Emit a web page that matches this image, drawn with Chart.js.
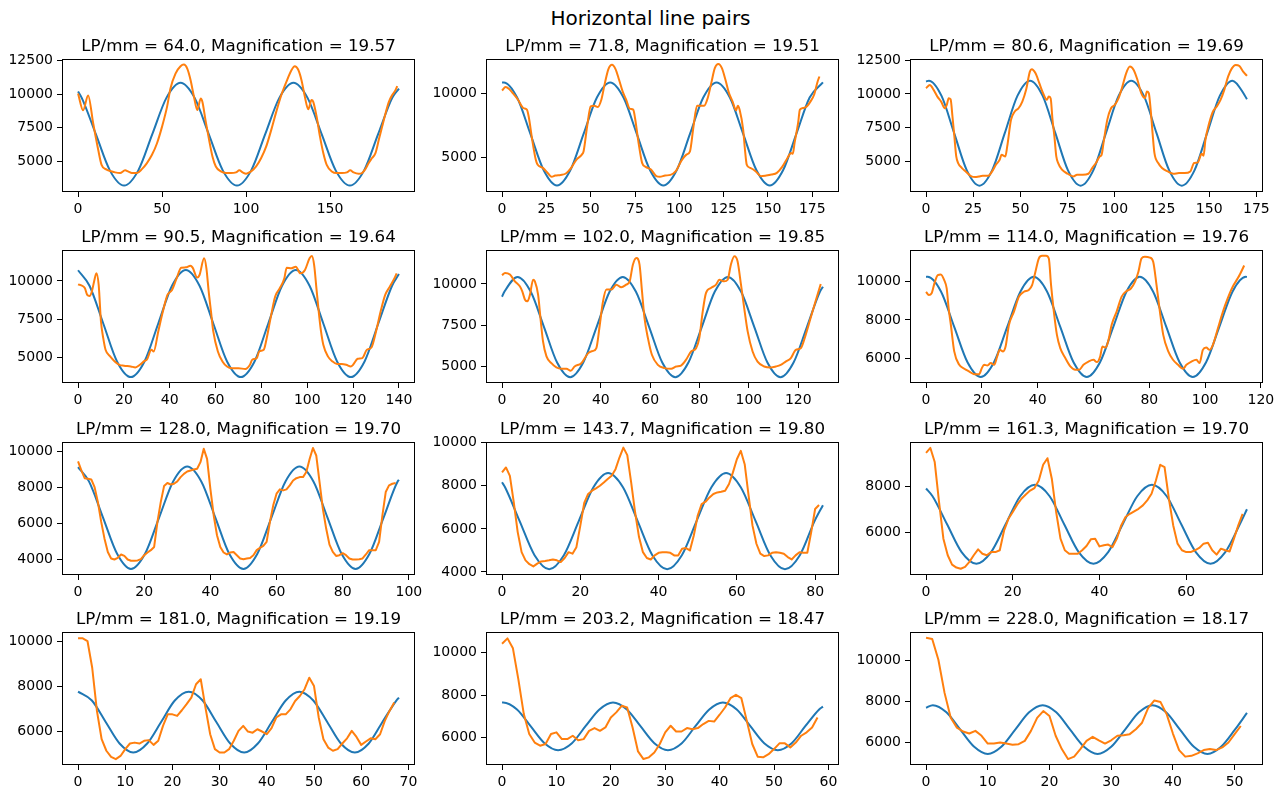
<!DOCTYPE html>
<html>
<head>
<meta charset="utf-8">
<title>Horizontal line pairs</title>
<script src="https://cdn.jsdelivr.net/npm/chart.js"></script>
<style>
  html, body { margin: 0; padding: 0; background: #fff; }
  #fig { position: relative; width: 1283px; height: 791px; background: #fff; overflow: hidden; }
  #suptitle {
    position: absolute; left: 9px; top: 6px; width: 1283px;
    text-align: center; font: 20px "DejaVu Sans", sans-serif; line-height: 24px; color: #000;
  }
</style>
</head>
<body>
<div id="fig">
  <div id="suptitle">Horizontal line pairs</div>
</div>
<script>
// --- Panel labels ---
const lpPerMm = [64.0, 71.8, 80.6, 90.5, 102.0, 114.0, 128.0, 143.7, 161.3, 181.0, 203.2, 228.0];
const magnification = [19.57, 19.51, 19.69, 19.64, 19.85, 19.76, 19.70, 19.80, 19.70, 19.19, 18.47, 18.17];

// --- Axis ticks and limits per panel ---
const xTicks = [
  [0, 50, 100, 150],
  [0, 25, 50, 75, 100, 125, 150, 175],
  [0, 25, 50, 75, 100, 125, 150, 175],
  [0, 20, 40, 60, 80, 100, 120, 140],
  [0, 20, 40, 60, 80, 100, 120],
  [0, 20, 40, 60, 80, 100, 120],
  [0, 20, 40, 60, 80, 100],
  [0, 20, 40, 60, 80],
  [0, 20, 40, 60],
  [0, 10, 20, 30, 40, 50, 60, 70],
  [0, 10, 20, 30, 40, 50, 60],
  [0, 10, 20, 30, 40, 50]
];
const yTicks = [
  [5000, 7500, 10000, 12500],
  [5000, 10000],
  [5000, 7500, 10000, 12500],
  [5000, 7500, 10000],
  [5000, 7500, 10000],
  [6000, 8000, 10000],
  [4000, 6000, 8000, 10000],
  [4000, 6000, 8000, 10000],
  [6000, 8000],
  [6000, 8000, 10000],
  [6000, 8000, 10000],
  [6000, 8000, 10000]
];
const xLimits = [
  [-9.55, 200.55], [-9.05, 190.05], [-8.5, 178.5], [-7, 147],
  [-6.5, 136.5], [-5.75, 120.75], [-4.85, 101.85], [-4.1, 86.1],
  [-3.7, 77.7], [-3.4, 71.4], [-2.95, 61.95], [-2.6, 54.6]
];
const yLimits = [
  [2745, 12600], [2300, 12720], [2750, 12580], [3330, 12025],
  [4000, 12060], [4755, 11600], [3140, 10530], [3860, 10030],
  [4115, 9950], [4520, 10400], [4700, 10970], [4900, 11410]
];

// --- Sine fit (blue) ---
const p1FitX = [0, 2.2, 10.6, 19, 27.4, 35.8, 44.2, 52.6, 61, 69.4, 77.8, 86.2, 94.6, 103, 111.4, 119.8, 128.2, 136.6, 145, 153.4, 161.8, 170.2, 178.6, 187, 191];
const p1FitY = [10190, 9720, 7030, 4330, 3220, 4330, 7030, 9720, 10840, 9720, 7030, 4330, 3220, 4330, 7030, 9720, 10840, 9720, 7030, 4330, 3220, 4330, 7030, 9720, 10400];
const p2FitX = [0, 1, 8.5, 16, 23.5, 31, 38.5, 46, 53.5, 61, 68.5, 76, 83.5, 91, 98.5, 106, 113.5, 121, 128.5, 136, 143.5, 151, 158.5, 166, 173.5, 181];
const p2FitY = [10880, 10885, 9700, 6850, 4000, 2810, 4000, 6850, 9700, 10885, 9700, 6850, 4000, 2810, 4000, 6850, 9700, 10885, 9700, 6850, 4000, 2810, 4000, 6850, 9700, 10885];
const p3FitX = [0, 1.5, 8.2, 14.9, 21.6, 28.3, 35, 41.7, 48.4, 55.1, 61.8, 68.5, 75.2, 81.9, 88.6, 95.3, 102, 108.7, 115.4, 122.1, 128.8, 135.5, 142.2, 148.9, 155.6, 162.3, 169, 170];
const p3FitY = [10910, 10980, 9850, 7100, 4350, 3220, 4350, 7100, 9850, 10980, 9850, 7100, 4350, 3220, 4350, 7100, 9850, 10980, 9850, 7100, 4350, 3220, 4350, 7100, 9850, 10980, 9850, 9600];
const p4FitX = [0, 5, 11, 17, 23, 29, 35, 41, 47, 53, 59, 65, 71, 77, 83, 89, 95, 101, 107, 113, 119, 125, 131, 137, 140];
const p4FitY = [10700, 9690, 7220, 4740, 3720, 4740, 7220, 9690, 10720, 9690, 7220, 4740, 3720, 4740, 7220, 9690, 10720, 9690, 7220, 4740, 3720, 4740, 7220, 9690, 10450];
const p5FitX = [0, 1, 6.3, 11.6, 17, 22.3, 27.6, 32.9, 38.3, 43.6, 48.9, 54.2, 59.6, 64.9, 70.2, 75.5, 80.9, 86.2, 91.5, 96.8, 102.2, 107.5, 112.8, 118.1, 123.5, 128.8, 130];
const p5FitY = [9230, 9540, 10430, 9540, 7390, 5240, 4350, 5240, 7390, 9540, 10430, 9540, 7390, 5240, 4350, 5240, 7390, 9540, 10430, 9540, 7390, 5240, 4350, 5240, 7390, 9540, 9830];
const p6FitX = [0, 0.6, 5.35, 10.1, 14.85, 19.6, 24.35, 29.1, 33.85, 38.6, 43.35, 48.1, 52.85, 57.6, 62.35, 67.1, 71.85, 76.6, 81.35, 86.1, 90.85, 95.6, 100.35, 105.1, 109.85, 114.6, 115];
const p6FitY = [10215, 10220, 9465, 7640, 5820, 5060, 5820, 7640, 9465, 10220, 9465, 7640, 5820, 5060, 5820, 7640, 9465, 10220, 9465, 7640, 5820, 5060, 5820, 7640, 9465, 10220, 10215];
const p7FitX = [0, 3.3, 7.55, 11.8, 16, 20.25, 24.5, 28.75, 33, 37.25, 41.5, 45.7, 50, 54.2, 58.45, 62.7, 66.9, 71.15, 75.4, 79.65, 83.9, 88.1, 92.35, 96.6, 97];
const p7FitY = [9130, 8340, 6330, 4320, 3480, 4320, 6330, 8340, 9170, 8340, 6330, 4320, 3480, 4320, 6330, 8340, 9170, 8340, 6330, 4320, 3480, 4320, 6330, 8340, 8430];
const p8FitX = [0, 0.77, 4.5, 8.3, 12.05, 15.8, 19.6, 23.35, 27.1, 30.9, 34.65, 38.4, 42.2, 45.95, 49.7, 53.5, 57.25, 61, 64.8, 68.55, 72.3, 76.1, 79.85, 82];
const p8FitY = [8160, 7930, 6360, 4780, 4130, 4780, 6360, 7930, 8590, 7930, 6360, 4780, 4130, 4780, 6360, 7930, 8590, 7930, 6360, 4780, 4130, 4780, 6360, 7100];
const p9FitX = [0, 1.5, 4.85, 8.2, 11.6, 15, 18.35, 21.7, 25.1, 28.5, 31.85, 35.2, 38.6, 42, 45.35, 48.7, 52.1, 55.5, 58.85, 62.2, 65.6, 69, 72.35, 74];
const p9FitY = [7910, 7570, 6340, 5120, 4610, 5120, 6340, 7570, 8070, 7570, 6340, 5120, 4610, 5120, 6340, 7570, 8070, 7570, 6340, 5120, 4610, 5120, 6340, 7000];
const p10FitX = [0, 2.93, 5.86, 8.8, 11.7, 14.65, 17.6, 20.5, 23.45, 26.4, 29.3, 32.25, 35.2, 38.1, 41.05, 44, 46.9, 49.85, 52.8, 55.7, 58.65, 61.6, 64.5, 67.45, 68];
const p10FitY = [7760, 7370, 6420, 5470, 5070, 5470, 6420, 7370, 7760, 7370, 6420, 5470, 5070, 5470, 6420, 7370, 7760, 7370, 6420, 5470, 5070, 5470, 6420, 7370, 7500];
const p11FitX = [0, 0.2, 2.75, 5.25, 7.8, 10.3, 12.85, 15.35, 17.9, 20.4, 22.95, 25.45, 28, 30.5, 33.05, 35.55, 38.1, 40.6, 43.15, 45.65, 48.2, 50.7, 53.25, 55.75, 58.3, 59];
const p11FitY = [7645, 7650, 7320, 6530, 5730, 5400, 5730, 6530, 7320, 7650, 7320, 6530, 5730, 5400, 5730, 6530, 7320, 7650, 7320, 6530, 5730, 5400, 5730, 6530, 7320, 7450];
const p12FitX = [0, 1.1, 3.3, 5.55, 7.8, 10, 12.2, 14.45, 16.7, 18.9, 21.1, 23.35, 25.6, 27.8, 30, 32.25, 34.5, 36.7, 38.9, 41.15, 43.4, 45.6, 47.8, 50.05, 52];
const p12FitY = [7700, 7830, 7480, 6630, 5790, 5440, 5790, 6630, 7480, 7830, 7480, 6630, 5790, 5440, 5790, 6630, 7480, 7830, 7480, 6630, 5790, 5440, 5790, 6630, 7450];

// --- Measured profiles (orange) ---
const p1MeasX = [0, 3, 6, 9, 12, 14, 17, 20, 22, 25, 28, 30, 32, 35, 38, 41, 44, 47, 50, 53, 55, 58, 61, 63, 65, 67, 69, 71, 73, 74, 76, 78, 80, 82, 85, 88, 91, 94, 96, 98, 100, 103, 106, 109, 112, 115, 118, 121, 124, 127, 129, 131, 133, 135, 137, 139, 140, 142, 144, 146, 148, 151, 154, 157, 160, 162, 164, 167, 169, 171, 173, 175, 177, 179, 181, 183, 185, 187, 189, 190];
const p1MeasY = [10050, 8800, 9900, 7840, 5870, 4760, 4400, 4270, 4200, 4150, 4350, 4250, 4150, 4150, 4440, 4890, 5500, 6360, 7590, 9070, 10420, 11520, 12065, 12190, 11890, 11030, 9800, 8820, 9680, 9430, 7960, 6610, 5380, 4640, 4270, 4150, 4150, 4200, 4350, 4200, 4100, 4270, 4640, 5260, 6120, 7350, 8700, 9930, 10910, 11770, 12065, 11820, 11030, 9800, 8870, 9560, 9430, 8330, 6850, 5620, 4760, 4270, 4150, 4150, 4200, 4350, 4200, 4100, 4150, 4440, 4890, 5260, 5620, 6610, 7590, 8570, 9430, 9930, 10300, 10590];
const p2MeasX = [0, 2, 4, 6, 9, 12, 14, 15, 17, 19, 20, 23, 26, 28, 30, 33, 36, 39, 42, 45, 46, 48, 50, 52, 54, 56, 58, 60, 62, 64, 66, 68, 70, 72, 74, 75, 77, 79, 81, 84, 87, 89, 92, 95, 98, 101, 104, 106, 108, 110, 112, 114, 116, 118, 120, 122, 124, 126, 128, 130, 132, 133, 134, 136, 137, 138, 140, 143, 146, 149, 152, 155, 158, 161, 163, 164, 165, 167, 168, 170, 172, 174, 176, 178, 179];
const p2MeasY = [10260, 10520, 10365, 10050, 9530, 8880, 8750, 8230, 6400, 4840, 4450, 4190, 3750, 3490, 3590, 3640, 3750, 4190, 4840, 5230, 5490, 7450, 9010, 9060, 8960, 9530, 10830, 11930, 12270, 11930, 11090, 10180, 9530, 8830, 8750, 8100, 6150, 4580, 4270, 4060, 3540, 3490, 3590, 3640, 3930, 4710, 5230, 5490, 7450, 9060, 9060, 9060, 9660, 10830, 12000, 12320, 12000, 11090, 10050, 9400, 8700, 9060, 8750, 7190, 5630, 4450, 4190, 3930, 3540, 3590, 3670, 3800, 4270, 4970, 5360, 5300, 6150, 7710, 8750, 8880, 9010, 9400, 9920, 10960, 11350];
const p3MeasX = [0, 2, 4, 6, 8, 10, 11, 12, 13, 14, 15, 16, 17, 19, 21, 24, 26, 28, 30, 33, 35, 37, 39, 40, 42, 43, 45, 47, 49, 51, 53, 55, 56, 58, 60, 62, 64, 65, 66, 67, 68, 69, 70, 72, 75, 78, 80, 83, 86, 88, 90, 92, 93, 94, 96, 98, 100, 102, 104, 106, 108, 110, 112, 114, 116, 117, 118, 119, 120, 121, 123, 125, 128, 131, 134, 137, 140, 142, 144, 146, 147, 148, 150, 152, 154, 156, 158, 160, 162, 164, 166, 168, 170];
const p3MeasY = [10420, 10660, 10300, 9800, 9430, 8940, 9190, 9680, 9600, 8330, 6850, 5380, 4890, 4520, 4270, 3900, 3850, 3900, 3950, 3950, 4270, 4760, 5130, 5500, 5380, 6120, 8080, 8700, 8940, 9430, 10300, 11650, 11820, 11520, 10790, 10050, 9560, 9800, 9680, 8080, 6850, 5380, 4890, 4400, 4100, 3900, 4030, 4030, 4100, 4520, 4890, 5380, 5500, 6360, 8080, 8940, 9190, 9680, 10540, 11520, 12020, 11770, 11030, 10050, 9680, 10170, 10050, 8820, 7100, 5620, 4890, 4520, 4270, 4100, 4150, 4150, 4270, 4890, 4940, 5580, 5430, 6610, 7840, 8700, 9070, 9560, 10300, 11280, 11890, 12140, 12060, 11650, 11330];
const p4MeasX = [0, 2, 3, 4, 5, 6, 7, 8, 9, 10, 11, 12, 14, 16, 18, 20, 23, 25, 27, 29, 30, 32, 33, 35, 37, 39, 41, 43, 45, 47, 49, 50, 52, 53, 55, 56, 57, 58, 59, 61, 63, 65, 67, 70, 73, 75, 76, 78, 79, 81, 82, 84, 86, 88, 90, 91, 93, 95, 97, 99, 101, 102, 103, 104, 105, 106, 107, 109, 111, 113, 115, 117, 119, 120, 122, 124, 126, 128, 130, 132, 134, 136, 138, 139];
const p4MeasY = [9780, 9670, 9520, 9090, 9020, 9300, 9960, 10500, 9740, 7350, 6260, 5500, 5070, 4740, 4520, 4460, 4410, 4350, 4520, 4780, 4850, 5500, 5390, 6700, 8000, 9090, 9410, 10170, 10870, 10890, 11000, 10870, 10220, 10390, 11480, 10830, 9300, 8000, 6700, 5390, 4740, 4410, 4300, 4300, 4240, 4520, 4850, 4960, 5390, 5500, 6040, 7570, 8980, 9520, 10170, 10870, 10830, 10930, 10500, 10720, 11480, 11630, 11040, 9520, 8000, 6700, 5830, 5070, 4740, 4570, 4570, 4520, 4410, 4520, 4910, 4960, 5500, 5650, 6700, 8000, 9090, 9630, 10170, 10500];
const p5MeasX = [0, 1.2, 3.2, 5.2, 7.2, 8.2, 9.3, 10.3, 11.3, 12.6, 13.3, 14.6, 15.7, 16.6, 18, 20, 22, 24.1, 26.1, 27.8, 29.4, 32.1, 34.9, 36.9, 38.2, 39.6, 40.9, 42.3, 44.3, 46.3, 48.3, 50.3, 51.7, 53, 54.4, 55.7, 56.7, 57.7, 59.1, 60.7, 63.1, 65.8, 68.5, 70.5, 72.5, 74.5, 76.6, 78.6, 79.9, 81.3, 82.6, 84.6, 86.7, 88, 90, 91.4, 92.7, 94.1, 95.4, 96.8, 98.1, 99.5, 101.5, 103.5, 106.2, 108.9, 110.9, 112.9, 114.9, 117, 119, 121, 123, 125, 127, 129.1];
const p5MeasY = [10530, 10670, 10570, 10160, 9860, 9550, 9050, 8950, 9350, 10260, 10160, 9350, 7730, 6520, 5610, 5200, 4940, 4860, 4860, 4740, 5000, 5200, 5810, 5950, 6110, 7530, 8950, 9660, 9660, 9960, 9800, 9960, 10160, 11170, 11580, 11170, 9550, 7940, 6720, 5710, 5100, 4900, 4860, 5000, 5060, 5400, 5910, 6110, 6720, 8340, 9450, 9760, 9960, 10260, 10160, 10260, 11170, 11680, 11380, 9960, 8540, 7130, 5910, 5300, 5000, 4940, 5000, 5100, 5300, 5510, 6010, 6110, 6920, 7940, 8950, 10000];
const p6MeasX = [0, 1, 2, 3, 4.2, 5.3, 6.5, 7.4, 8.1, 8.9, 10.1, 11.9, 13.7, 15.4, 17.2, 19, 20, 20.8, 22, 23.2, 24.4, 25.5, 26.4, 27.6, 28.5, 29.7, 31.5, 33.3, 35.1, 36.8, 38, 39.2, 40.4, 41.6, 43, 44, 44.8, 45.8, 46.9, 48.1, 49.9, 51.7, 53.5, 54.9, 56.4, 58.2, 60, 61.2, 62.4, 63.2, 64.4, 65.4, 66.5, 68.3, 70.1, 71.9, 73.4, 74.9, 76.1, 77.2, 78.4, 80.2, 81.4, 82.6, 83.8, 85, 86.8, 88.5, 90.3, 92.1, 93.3, 95.1, 96.9, 98, 99.2, 100.4, 101.6, 102.8, 104.6, 106.4, 108.1, 109.9, 111.7, 112.5, 114];
const p6MeasY = [9450, 9280, 9370, 9880, 10310, 10340, 10050, 9620, 8600, 7740, 6380, 5690, 5490, 5350, 5210, 5210, 5520, 5690, 5660, 5780, 5690, 6120, 6460, 6380, 6630, 7740, 8430, 9200, 9450, 9540, 9790, 10480, 11160, 11300, 11300, 11160, 9790, 8430, 7230, 6550, 6040, 5610, 5440, 5440, 5690, 5860, 5950, 5830, 6120, 6630, 6580, 6980, 7740, 8430, 9200, 9490, 9620, 9970, 10480, 11160, 11250, 11210, 10990, 9790, 8430, 7230, 6380, 5950, 5690, 5490, 5690, 5860, 5950, 5780, 6460, 6580, 6460, 6720, 7570, 8430, 9110, 9710, 10140, 10350, 10800];
// panels 7-12 are sampled once per pixel index (x = 0, 1, 2, ...)
const p7MeasY = [9450, 8950, 8520, 8490, 8450, 8020, 7190, 6090, 5160, 4420, 4060, 4000, 4090, 4280, 4200, 4000, 3930, 3930, 3950, 4020, 4240, 4390, 4520, 4700, 6090, 7190, 8080, 8250, 8170, 8210, 8340, 8580, 8760, 8890, 8950, 9000, 9040, 9410, 10150, 9590, 7930, 6460, 5350, 4700, 4390, 4280, 4390, 4420, 4240, 4060, 4020, 4060, 4090, 4240, 4520, 4650, 4760, 4980, 6090, 7010, 7660, 7900, 7840, 7900, 8120, 8390, 8520, 8580, 8580, 8860, 9590, 10200, 9780, 8300, 6820, 5720, 4830, 4420, 4200, 4240, 4350, 4240, 4060, 4000, 4000, 4020, 4060, 4280, 4520, 4520, 4520, 4980, 6460, 7750, 8120, 8210, 8250];
const p8MeasY = [8620, 8850, 8460, 7230, 5850, 4920, 4540, 4360, 4260, 4390, 4490, 4510, 4540, 4580, 4540, 4460, 4650, 4920, 4850, 5150, 6150, 7200, 7620, 7770, 7880, 8000, 8150, 8310, 8460, 8770, 9310, 9770, 9420, 8150, 6770, 5620, 4920, 4650, 4580, 4770, 4890, 4920, 4920, 4890, 4770, 4770, 5080, 5110, 5000, 5690, 6620, 7150, 7260, 7460, 7620, 7690, 7720, 7770, 8080, 8620, 9230, 9620, 9000, 7540, 6150, 5310, 4850, 4740, 4770, 4890, 4920, 4890, 4850, 4690, 4580, 4770, 4920, 4890, 4890, 5850, 6920, 7110];
const p9MeasY = [9475, 9690, 9070, 7310, 5710, 4980, 4570, 4440, 4390, 4470, 4690, 4980, 5240, 5050, 4980, 5120, 5120, 5200, 6070, 6580, 6880, 7200, 7460, 7650, 7820, 7930, 8260, 8950, 9240, 8340, 6880, 5710, 5200, 5050, 5050, 5050, 5200, 5390, 5680, 5710, 5370, 5420, 5450, 5340, 5710, 6290, 6660, 6800, 6910, 7020, 7170, 7390, 7680, 8260, 8950, 8850, 7460, 6290, 5490, 5200, 5120, 5120, 5200, 5300, 5490, 5530, 5200, 5010, 5270, 5200, 5150, 5710, 6290, 6800];
const p10MeasY = [10120, 10120, 10000, 8820, 6910, 5660, 5150, 4880, 4780, 4920, 5220, 5470, 5510, 5470, 5590, 5620, 5410, 5590, 6250, 6760, 6760, 6690, 6940, 7210, 7500, 8090, 8310, 7060, 5880, 5220, 5070, 5070, 5220, 5590, 6030, 6250, 6000, 5950, 6100, 6000, 5880, 6150, 6620, 6760, 6760, 6980, 7350, 7570, 7870, 8380, 8010, 6620, 5660, 5290, 5150, 5220, 5470, 5700, 6030, 5760, 5410, 5560, 5700, 5660, 5880, 6470, 6910, 7280];
const p11MeasY = [10420, 10670, 10200, 8740, 7100, 6160, 5760, 5610, 5690, 6160, 6240, 5920, 5920, 6080, 5870, 5920, 6310, 6440, 6310, 6470, 6940, 7180, 7490, 7410, 6470, 5340, 4980, 5060, 5290, 5690, 6240, 6550, 6280, 6280, 6440, 6390, 6440, 6630, 6780, 6750, 7070, 7410, 7850, 8010, 7850, 6780, 5690, 5090, 5060, 5210, 5450, 5720, 5720, 5530, 5760, 6080, 6240, 6470, 6940];
const p12MeasY = [11130, 11070, 10050, 8430, 7210, 6730, 6540, 6440, 6570, 6330, 5950, 5950, 6000, 5950, 5890, 5920, 6080, 6570, 7210, 7540, 7300, 6330, 5680, 5190, 5310, 5680, 6080, 6280, 6110, 5950, 6110, 6330, 6360, 6410, 6650, 6970, 7700, 8060, 7980, 7380, 6440, 5630, 5310, 5350, 5470, 5630, 5680, 5630, 5760, 6000, 6410, 6810];

const fitX = [p1FitX, p2FitX, p3FitX, p4FitX, p5FitX, p6FitX, p7FitX, p8FitX, p9FitX, p10FitX, p11FitX, p12FitX];
const fitY = [p1FitY, p2FitY, p3FitY, p4FitY, p5FitY, p6FitY, p7FitY, p8FitY, p9FitY, p10FitY, p11FitY, p12FitY];
const measX = [p1MeasX, p2MeasX, p3MeasX, p4MeasX, p5MeasX, p6MeasX, null, null, null, null, null, null];
const measY = [p1MeasY, p2MeasY, p3MeasY, p4MeasY, p5MeasY, p6MeasY, p7MeasY, p8MeasY, p9MeasY, p10MeasY, p11MeasY, p12MeasY];

// --- Grid layout (axes boxes in page pixels) ---
const colLeft = [62, 486, 910];
const rowTop = [59, 250, 442, 632];
const AX_W = 353, AX_H = 133;
const PAD_L = 62, PAD_T = 40, PAD_R = 24, PAD_B = 30;

Chart.defaults.font.family = '"DejaVu Sans", sans-serif';
Chart.defaults.font.size = 14;
Chart.defaults.color = '#000';

// full box around the axes + panel title, like matplotlib spines
const panelFrame = {
  id: 'panelFrame',
  afterDraw(chart, args, opts) {
    const { ctx, chartArea: a } = chart;
    ctx.save();
    ctx.strokeStyle = '#000';
    ctx.lineWidth = 1;
    ctx.strokeRect(Math.round(a.left) + 0.5, Math.round(a.top) + 0.5,
                   Math.round(a.right - a.left) - 1, Math.round(a.bottom - a.top) - 1);
    ctx.fillStyle = '#000';
    ctx.font = '16.7px "DejaVu Sans", sans-serif';
    ctx.textAlign = 'center';
    ctx.textBaseline = 'alphabetic';
    ctx.fillText(opts.text, (a.left + a.right) / 2, a.top - 8);
    ctx.restore();
  }
};

function toPoints(xs, ys) {
  return ys.map((y, i) => ({ x: xs ? xs[i] : i, y: y }));
}

function axisOptions(lim, ticks, isX) {
  return {
    type: 'linear',
    min: lim[0],
    max: lim[1],
    afterBuildTicks: s => { s.ticks = ticks.map(v => ({ value: v })); },
    afterFit: s => { if (isX) s.height = PAD_B; else s.width = PAD_L; },
    grid: { drawOnChartArea: false, drawTicks: true, tickLength: 5, color: '#000', lineWidth: 1 },
    border: { display: false },
    ticks: { autoSkip: false, maxRotation: 0, padding: 4, callback: v => String(v) }
  };
}

const fig = document.getElementById('fig');

for (let i = 0; i < 12; i++) {
  const canvas = document.createElement('canvas');
  const w = AX_W + PAD_L + PAD_R;
  const h = AX_H + PAD_T + PAD_B;
  canvas.width = w;
  canvas.height = h;
  canvas.style.cssText = `position:absolute;left:${colLeft[i % 3] - PAD_L}px;top:${rowTop[Math.floor(i / 3)] - PAD_T}px;width:${w}px;height:${h}px;`;
  fig.appendChild(canvas);

  const title = `LP/mm = ${lpPerMm[i].toFixed(1)}, Magnification = ${magnification[i].toFixed(2)}`;

  new Chart(canvas, {
    type: 'line',
    data: {
      datasets: [
        {
          label: 'measured',
          data: toPoints(measX[i], measY[i]),
          borderColor: '#ff7f0e',
          borderWidth: 2,
          pointRadius: 0,
          borderJoinStyle: 'round',
          tension: 0,
          cubicInterpolationMode: i < 6 ? 'monotone' : 'default',
          order: 0
        },
        {
          label: 'fit',
          data: toPoints(fitX[i], fitY[i]),
          borderColor: '#1f77b4',
          borderWidth: 2,
          pointRadius: 0,
          borderJoinStyle: 'round',
          cubicInterpolationMode: 'monotone',
          order: 1
        }
      ]
    },
    options: {
      responsive: false,
      animation: false,
      devicePixelRatio: 1,
      events: [],
      layout: { padding: { left: 0, top: PAD_T, right: PAD_R, bottom: 0 } },
      plugins: {
        legend: { display: false },
        tooltip: { enabled: false },
        panelFrame: { text: title }
      },
      scales: {
        x: axisOptions(xLimits[i], xTicks[i], true),
        y: axisOptions(yLimits[i], yTicks[i], false)
      }
    },
    plugins: [panelFrame]
  });
}
</script>
</body>
</html>
